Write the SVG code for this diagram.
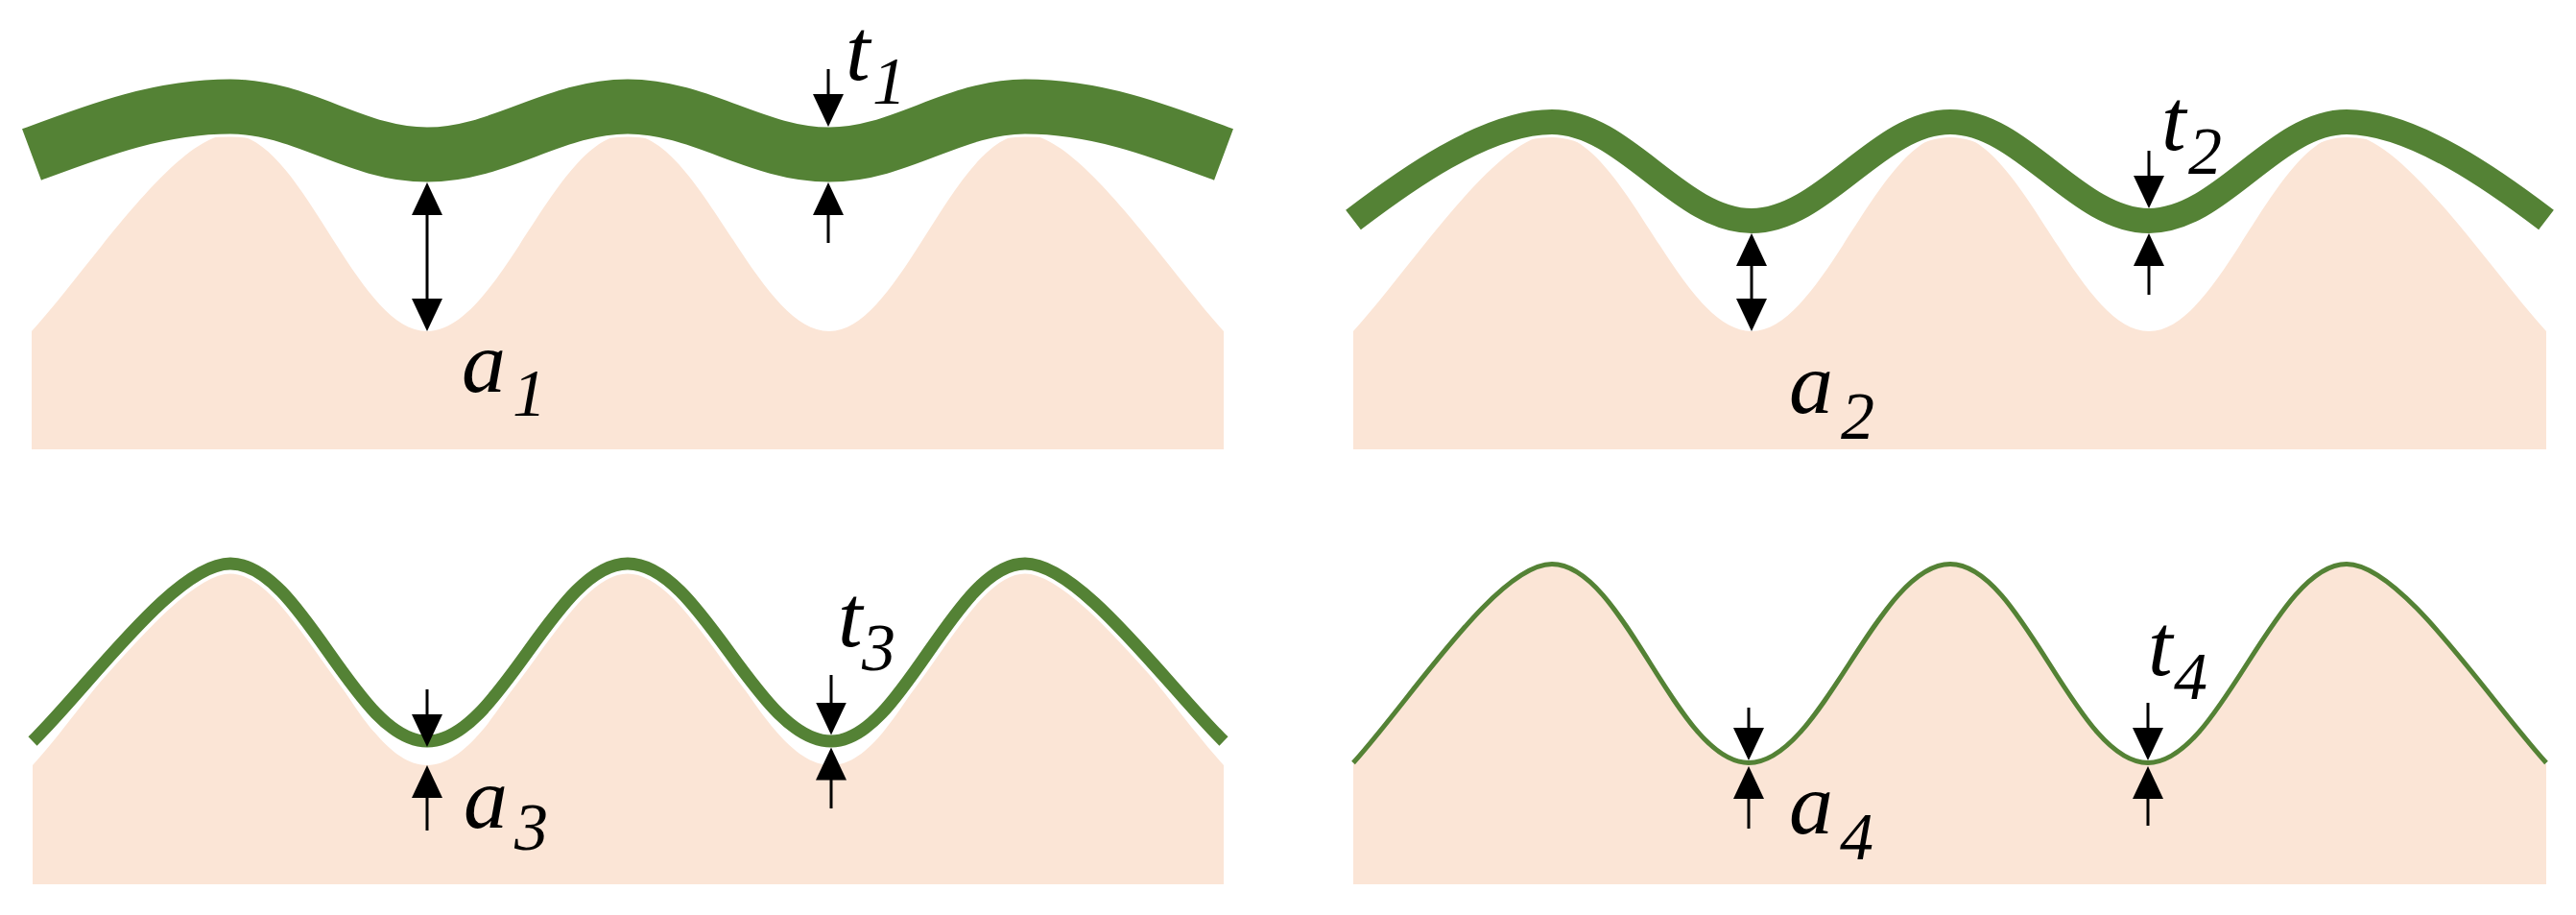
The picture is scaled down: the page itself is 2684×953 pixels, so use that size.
<svg xmlns="http://www.w3.org/2000/svg" width="2684" height="953" viewBox="0 0 2684 953">
<style>
.sub{fill:#FBE5D6;stroke:none}
.film{fill:none;stroke:#548235;stroke-linecap:butt;stroke-linejoin:round}
.halo{fill:none;stroke:#FFFFFF;stroke-linecap:butt}
.arr{stroke:#000;stroke-width:3;fill:none}
.lbl{font-family:"Liberation Serif","Times New Roman",serif;font-style:italic;font-size:92px;fill:#000}
.sb{font-size:70px}
</style>
<defs>
<marker id="ah" markerUnits="userSpaceOnUse" markerWidth="34" markerHeight="32" viewBox="0 0 34 32" refX="30" refY="16" orient="auto-start-reverse">
<path d="M0,0 L34,16 L0,32 Z" fill="#000"/>
</marker>
</defs>
<rect x="0" y="0" width="2684" height="953" fill="#FFFFFF"/>

<g id="panel1">
<path class="sub" d="M33,345 C93,279 183,140 240,140 C315,140 370,345 445,345 C521,345 578,140 654,140 C730,140 788,345 864,345 C938,345 994,140 1068,140 C1125,140 1215,279 1275,345 L1275,468 L33,468 Z"/>
<path class="halo" stroke-width="63" d="M33,161 C100,136 165,111 240,111 C315,111 370,161 445,161 C521,161 578,111 654,111 C730,111 788,161 864,161 C938,161 994,111 1068,111 C1143,111 1208,136 1275,161"/>
<path class="film" stroke-width="57" d="M33,161 C100,136 165,111 240,111 C315,111 370,161 445,161 C521,161 578,111 654,111 C730,111 788,161 864,161 C938,161 994,111 1068,111 C1143,111 1208,136 1275,161"/>
<text class="lbl" x="881" y="83">t<tspan class="sb" x="909" y="108">1</tspan></text>
<text class="lbl" x="481" y="408">a<tspan class="sb" x="534" y="433">1</tspan></text>
</g>

<g id="panel2">
<path class="sub" d="M1410,345 C1470,279 1560,140 1617,140 C1693,140 1749,345 1825,345 C1900,345 1957,140 2032,140 C2107,140 2164,345 2239,345 C2314,345 2370,140 2445,140 C2502,140 2593,279 2653,345 L2653,468 L1410,468 Z"/>
<path class="halo" stroke-width="32" d="M1410,229 C1460,191 1547,127 1617,127 C1693,127 1750,230 1825,230 C1900,230 1957,127 2032,127 C2107,127 2164,230 2239,230 C2314,230 2370,127 2445,127 C2515,127 2603,191 2653,229"/>
<path class="film" stroke-width="26" d="M1410,229 C1460,191 1547,127 1617,127 C1693,127 1750,230 1825,230 C1900,230 1957,127 2032,127 C2107,127 2164,230 2239,230 C2314,230 2370,127 2445,127 C2515,127 2603,191 2653,229"/>
<text class="lbl" x="2252" y="156">t<tspan class="sb" x="2280" y="181">2</tspan></text>
<text class="lbl" x="1864" y="430">a<tspan class="sb" x="1918" y="457">2</tspan></text>
</g>

<g id="panel3">
<path class="sub" d="M34,797 C94,731 183,590 240,590 C315,590 370,797 445,797 C521,797 578,590 654,590 C731,590 789,797 866,797 C940,797 994,590 1068,590 C1125,590 1215,731 1275,797 L1275,921 L34,921 Z"/>
<path class="halo" stroke-width="21" d="M34,772 C94,713 183,587 240,587 C315,587 370,772 445,772 C521,772 578,587 654,587 C731,587 789,772 866,772 C940,772 994,587 1068,587 C1125,587 1215,713 1275,772"/>
<path class="film" stroke-width="13" d="M34,772 C94,713 183,587 240,587 C315,587 370,772 445,772 C521,772 578,587 654,587 C731,587 789,772 866,772 C940,772 994,587 1068,587 C1125,587 1215,713 1275,772"/>
<text class="lbl" x="873" y="673">t<tspan class="sb" x="898" y="698">3</tspan></text>
<text class="lbl" x="483" y="862">a<tspan class="sb" x="536" y="885">3</tspan></text>
</g>

<g id="panel4">
<path class="sub" d="M1410,796 C1470,730 1560,589 1617,589 C1692,589 1747,796 1822,796 C1898,796 1956,589 2032,589 C2107,589 2163,796 2238,796 C2313,796 2370,589 2445,589 C2502,589 2593,730 2653,796 L2653,921 L1410,921 Z"/>
<path class="film" stroke-width="5" d="M1410,794.5 C1470,728.5 1560,587.5 1617,587.5 C1692,587.5 1747,794.5 1822,794.5 C1898,794.5 1956,587.5 2032,587.5 C2107,587.5 2163,794.5 2238,794.5 C2313,794.5 2370,587.5 2445,587.5 C2502,587.5 2593,728.5 2653,794.5"/>
<text class="lbl" x="2238" y="703">t<tspan class="sb" x="2265" y="728">4</tspan></text>
<text class="lbl" x="1864" y="868">a<tspan class="sb" x="1917" y="895">4</tspan></text>
</g>

<g id="connectors">
<line class="arr" x1="445" y1="194" x2="445" y2="341" marker-start="url(#ah)" marker-end="url(#ah)"/>
<line class="arr" x1="863" y1="72" x2="863" y2="128" marker-end="url(#ah)"/>
<line class="arr" x1="863" y1="253" x2="863" y2="194" marker-end="url(#ah)"/>

<line class="arr" x1="1825" y1="247" x2="1825" y2="341" marker-start="url(#ah)" marker-end="url(#ah)"/>
<line class="arr" x1="2239" y1="157" x2="2239" y2="213" marker-end="url(#ah)"/>
<line class="arr" x1="2239" y1="307" x2="2239" y2="247" marker-end="url(#ah)"/>

<line class="arr" x1="445" y1="718" x2="445" y2="774" marker-end="url(#ah)"/>
<line class="arr" x1="445" y1="865" x2="445" y2="801" marker-end="url(#ah)"/>
<line class="arr" x1="866" y1="703" x2="866" y2="761.5" marker-end="url(#ah)"/>
<line class="arr" x1="866" y1="842" x2="866" y2="782.5" marker-end="url(#ah)"/>

<line class="arr" x1="1822" y1="737" x2="1822" y2="788" marker-end="url(#ah)"/>
<line class="arr" x1="1822" y1="863" x2="1822" y2="802" marker-end="url(#ah)"/>
<line class="arr" x1="2238" y1="732" x2="2238" y2="788" marker-end="url(#ah)"/>
<line class="arr" x1="2238" y1="860" x2="2238" y2="802" marker-end="url(#ah)"/>
</g>
</svg>
